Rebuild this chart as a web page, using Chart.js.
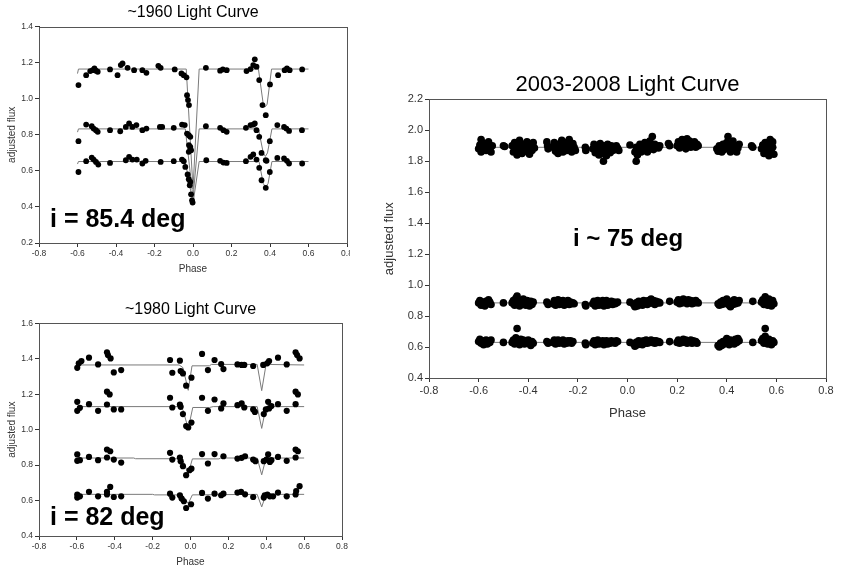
<!DOCTYPE html>
<html>
<head>
<meta charset="utf-8">
<script src="https://cdn.jsdelivr.net/npm/chart.js@4.4.1/dist/chart.umd.min.js"></script>
<style>
  html, body { margin: 0; padding: 0; background: #fff; }
  body { width: 842px; height: 571px; position: relative; overflow: hidden; }
  .panel { position: absolute; overflow: hidden; }
  canvas { display: block; }
</style>
</head>
<body>
<div class="panel" style="left:0;top:0;width:350px;height:285px"><canvas id="c1960" width="362" height="285"></canvas></div>
<div class="panel" style="left:0;top:296px;width:352px;height:275px"><canvas id="c1980" width="352" height="275"></canvas></div>
<div class="panel" style="left:370px;top:60px;width:472px;height:365px"><canvas id="c2003" width="472" height="365"></canvas></div>
<script>
// =======================
// DATA  [phase, adjusted flux]
// =======================
const xTicks = [-0.8, -0.6, -0.4, -0.2, 0.0, 0.2, 0.4, 0.6, 0.8];

// ~1960 observations (three bands)
const obs60Top = [[-0.595,1.076],[-0.555,1.131],[-0.534,1.154],[-0.521,1.159],[-0.512,1.168],[-0.504,1.156],[-0.495,1.15],
  [-0.431,1.163],[-0.392,1.131],[-0.375,1.187],[-0.366,1.196],[-0.34,1.172],[-0.306,1.159],[-0.263,1.159],[-0.242,1.144],
  [-0.18,1.183],[-0.168,1.172],[-0.095,1.163],[-0.06,1.141],[-0.048,1.131],[-0.034,1.119],[-0.031,1.02],[-0.026,0.993],
  [-0.021,0.965],[0.067,1.172],[0.141,1.156],[0.155,1.163],[0.175,1.159],[0.278,1.154],[0.299,1.165],[0.313,1.187],
  [0.321,1.219],[0.33,1.178],[0.344,1.104],[0.361,0.965],[0.378,0.909],[0.4,1.08],[0.442,1.131],[0.476,1.159],
  [0.488,1.168],[0.502,1.159],[0.567,1.163]];
const obs60Mid = [[-0.595,0.765],[-0.555,0.857],[-0.526,0.848],[-0.516,0.835],[-0.504,0.826],[-0.495,0.817],[-0.431,0.826],
  [-0.378,0.82],[-0.349,0.844],[-0.332,0.863],[-0.315,0.844],[-0.294,0.854],[-0.263,0.826],[-0.242,0.835],[-0.172,0.844],
  [-0.16,0.844],[-0.1,0.839],[-0.057,0.857],[-0.043,0.854],[-0.031,0.807],[-0.022,0.798],[-0.014,0.789],[-0.021,0.743],
  [-0.014,0.733],[-0.01,0.715],[-0.022,0.706],[0.067,0.848],[0.141,0.839],[0.158,0.826],[0.175,0.817],[0.275,0.839],
  [0.299,0.854],[0.313,0.857],[0.321,0.863],[0.33,0.826],[0.344,0.789],[0.356,0.7],[0.378,0.659],[0.399,0.765],
  [0.438,0.854],[0.473,0.844],[0.485,0.835],[0.499,0.822],[0.566,0.826]];
const obs60Low = [[-0.595,0.594],[-0.555,0.654],[-0.526,0.674],[-0.516,0.663],[-0.504,0.65],[-0.492,0.635],[-0.431,0.644],
  [-0.349,0.659],[-0.332,0.678],[-0.315,0.663],[-0.292,0.663],[-0.263,0.641],[-0.246,0.656],[-0.168,0.65],[-0.1,0.654],
  [-0.057,0.663],[-0.048,0.654],[-0.04,0.622],[-0.028,0.58],[-0.022,0.554],[-0.014,0.539],[-0.017,0.52],[-0.01,0.47],
  [-0.005,0.437],[-0.002,0.424],[0.069,0.659],[0.141,0.656],[0.158,0.646],[0.175,0.644],[0.275,0.654],[0.299,0.678],
  [0.313,0.691],[0.33,0.663],[0.344,0.617],[0.356,0.548],[0.378,0.506],[0.382,0.656],[0.399,0.594],[0.438,0.672],
  [0.473,0.669],[0.488,0.656],[0.499,0.641],[0.567,0.641]];

// ~1960 model curves
const fit60Top = [[-0.6,1.14],[-0.595,1.165],[-0.035,1.165],[0.0,0.5],[0.032,1.165],[0.34,1.165],[0.365,0.97],[0.375,0.955],[0.385,0.97],[0.408,1.165],[0.6,1.165]];
const fit60Mid = [[-0.6,0.815],[-0.595,0.833],[-0.04,0.833],[0.0,0.45],[0.032,0.833],[0.34,0.833],[0.365,0.7],[0.376,0.68],[0.387,0.7],[0.41,0.833],[0.6,0.833]];
const fit60Low = [[-0.6,0.638],[-0.595,0.652],[-0.04,0.652],[0.0,0.42],[0.032,0.652],[0.343,0.652],[0.365,0.53],[0.377,0.51],[0.39,0.53],[0.41,0.652],[0.6,0.652]];

// ~1980 observations (four bands)
const obs80A = [[-0.598,1.349],[-0.59,1.374],[-0.576,1.387],[-0.536,1.406],[-0.488,1.368],[-0.441,1.436],[-0.436,1.421],
  [-0.422,1.402],[-0.405,1.323],[-0.366,1.336],[-0.108,1.393],[-0.096,1.321],[-0.056,1.389],[-0.052,1.331],[-0.04,1.317],
  [-0.023,1.248],[0.005,1.293],[0.061,1.427],[0.092,1.336],[0.127,1.393],[0.162,1.37],[0.174,1.342],[0.248,1.368],
  [0.27,1.365],[0.284,1.365],[0.331,1.359],[0.384,1.365],[0.405,1.374],[0.415,1.387],[0.462,1.406],[0.508,1.368],
  [0.555,1.436],[0.563,1.421],[0.576,1.402]];
const obs80B = [[-0.598,1.157],[-0.598,1.106],[-0.584,1.123],[-0.536,1.144],[-0.488,1.106],[-0.441,1.214],[-0.427,1.199],
  [-0.441,1.142],[-0.405,1.114],[-0.366,1.114],[-0.108,1.18],[-0.096,1.125],[-0.056,1.142],[-0.052,1.129],[-0.04,1.088],
  [-0.023,1.02],[-0.012,1.012],[0.005,1.04],[0.061,1.18],[0.092,1.106],[0.127,1.17],[0.162,1.12],[0.174,1.148],
  [0.248,1.138],[0.27,1.148],[0.284,1.125],[0.331,1.114],[0.34,1.1],[0.387,1.088],[0.398,1.114],[0.41,1.157],
  [0.415,1.12],[0.427,1.133],[0.462,1.144],[0.508,1.106],[0.555,1.214],[0.567,1.199],[0.555,1.144]];
const obs80C = [[-0.598,0.86],[-0.598,0.824],[-0.584,0.828],[-0.536,0.846],[-0.488,0.828],[-0.441,0.888],[-0.424,0.878],
  [-0.441,0.843],[-0.405,0.831],[-0.366,0.814],[-0.108,0.869],[-0.096,0.831],[-0.056,0.843],[-0.052,0.822],[-0.04,0.794],
  [-0.023,0.743],[-0.005,0.771],[0.005,0.78],[0.061,0.862],[0.092,0.809],[0.127,0.862],[0.174,0.85],[0.248,0.837],
  [0.27,0.841],[0.288,0.85],[0.331,0.831],[0.343,0.822],[0.387,0.822],[0.401,0.831],[0.41,0.86],[0.419,0.818],
  [0.427,0.828],[0.462,0.846],[0.508,0.824],[0.555,0.888],[0.567,0.878],[0.555,0.843]];
const obs80D = [[-0.598,0.634],[-0.598,0.617],[-0.584,0.624],[-0.536,0.649],[-0.488,0.624],[-0.441,0.634],[-0.441,0.649],
  [-0.424,0.677],[-0.405,0.62],[-0.366,0.624],[-0.108,0.639],[-0.096,0.617],[-0.056,0.63],[-0.047,0.611],[-0.035,0.596],
  [-0.023,0.558],[0.003,0.579],[0.061,0.643],[0.092,0.611],[0.127,0.639],[0.162,0.63],[0.174,0.639],[0.248,0.645],
  [0.267,0.649],[0.288,0.635],[0.331,0.62],[0.387,0.617],[0.392,0.63],[0.406,0.634],[0.419,0.624],[0.436,0.624],
  [0.462,0.645],[0.508,0.624],[0.555,0.634],[0.558,0.654],[0.576,0.681]];

// ~1980 model curves
const fit80A = [[-0.6,1.365],[-0.06,1.365],[-0.04,1.35],[-0.012,1.222],[0.008,1.36],[0.1,1.36],[0.11,1.368],[0.352,1.368],[0.376,1.22],[0.399,1.368],[0.6,1.365]];
const fit80B = [[-0.6,1.13],[-0.06,1.13],[-0.04,1.112],[-0.012,1.005],[0.012,1.125],[0.1,1.125],[0.12,1.13],[0.352,1.13],[0.376,1.007],[0.399,1.13],[0.6,1.13]];
const fit80C = [[-0.6,0.84],[-0.3,0.84],[-0.29,0.836],[-0.06,0.836],[-0.04,0.825],[-0.012,0.752],[0.01,0.835],[0.15,0.835],[0.16,0.84],[0.352,0.84],[0.376,0.745],[0.399,0.84],[0.6,0.84]];
const fit80D = [[-0.6,0.635],[-0.2,0.635],[-0.19,0.632],[-0.06,0.632],[-0.04,0.625],[-0.012,0.583],[0.01,0.632],[0.352,0.635],[0.376,0.564],[0.399,0.635],[0.6,0.635]];

// 2003-2008 observations (three bands)
const obs03Top = [[-0.6,1.88],[-0.595,1.905],[-0.59,1.94],[-0.59,1.86],[-0.58,1.89],[-0.575,1.915],[-0.57,1.87],[-0.565,1.9],
  [-0.56,1.925],[-0.555,1.885],[-0.55,1.86],[-0.545,1.9],[-0.5,1.9],[-0.495,1.895],
  [-0.465,1.9],[-0.46,1.86],[-0.455,1.92],[-0.45,1.88],[-0.445,1.84],[-0.44,1.9],[-0.435,1.935],[-0.43,1.87],[-0.425,1.85],
  [-0.42,1.91],[-0.415,1.89],[-0.41,1.865],[-0.405,1.925],[-0.4,1.88],[-0.395,1.845],[-0.39,1.9],[-0.385,1.87],[-0.38,1.92],
  [-0.375,1.885],[-0.325,1.925],[-0.322,1.9],[-0.32,1.88],
  [-0.3,1.89],[-0.295,1.92],[-0.29,1.865],[-0.285,1.9],[-0.28,1.85],[-0.275,1.91],[-0.27,1.88],[-0.265,1.935],[-0.26,1.86],
  [-0.255,1.895],[-0.25,1.92],[-0.245,1.87],[-0.24,1.9],[-0.235,1.94],[-0.23,1.885],[-0.225,1.86],[-0.22,1.915],[-0.215,1.89],
  [-0.21,1.87],[-0.17,1.89],[-0.168,1.87],
  [-0.14,1.88],[-0.135,1.91],[-0.13,1.855],[-0.125,1.9],[-0.12,1.87],[-0.115,1.84],[-0.11,1.915],[-0.105,1.885],[-0.1,1.85],
  [-0.097,1.8],[-0.095,1.9],[-0.09,1.87],[-0.085,1.835],[-0.08,1.91],[-0.075,1.88],[-0.07,1.855],[-0.065,1.9],[-0.06,1.87],
  [-0.055,1.89],[-0.05,1.875],[-0.045,1.9],[-0.04,1.885],[-0.035,1.87],[0.01,1.905],[0.035,1.8],
  [0.03,1.86],[0.035,1.89],[0.04,1.84],[0.045,1.875],[0.05,1.91],[0.055,1.86],[0.06,1.895],[0.065,1.875],[0.07,1.92],
  [0.075,1.89],[0.08,1.86],[0.085,1.9],[0.09,1.93],[0.095,1.88],[0.1,1.96],[0.1,1.905],[0.105,1.875],[0.11,1.91],[0.115,1.89],
  [0.12,1.9],[0.125,1.885],[0.13,1.9],[0.165,1.915],[0.17,1.9],
  [0.2,1.9],[0.205,1.925],[0.21,1.885],[0.215,1.91],[0.22,1.94],[0.225,1.895],[0.23,1.92],[0.235,1.88],[0.24,1.945],
  [0.245,1.905],[0.25,1.93],[0.255,1.89],[0.26,1.915],[0.265,1.9],[0.27,1.925],[0.275,1.89],[0.28,1.91],[0.285,1.9],
  [0.36,1.88],[0.365,1.865],[0.37,1.9],[0.375,1.885],[0.38,1.86],[0.385,1.91],[0.39,1.875],[0.395,1.895],[0.4,1.92],
  [0.405,1.96],[0.41,1.89],[0.415,1.86],[0.42,1.905],[0.425,1.93],[0.43,1.875],[0.435,1.9],[0.44,1.86],[0.445,1.885],
  [0.45,1.91],[0.5,1.9],[0.505,1.89],
  [0.54,1.88],[0.545,1.905],[0.55,1.85],[0.555,1.92],[0.56,1.87],[0.565,1.895],[0.57,1.835],[0.575,1.91],[0.575,1.94],
  [0.58,1.86],[0.585,1.89],[0.585,1.925],[0.59,1.845]];
const obs03Mid = [[-0.6,0.885],[-0.595,0.9],[-0.59,0.87],[-0.585,0.89],[-0.58,0.875],[-0.575,0.865],[-0.57,0.895],[-0.565,0.88],
  [-0.56,0.905],[-0.555,0.89],[-0.55,0.875],[-0.5,0.885],
  [-0.465,0.885],[-0.46,0.9],[-0.455,0.87],[-0.45,0.915],[-0.445,0.93],[-0.44,0.885],[-0.435,0.865],[-0.43,0.9],[-0.425,0.875],
  [-0.42,0.91],[-0.415,0.89],[-0.41,0.87],[-0.405,0.9],[-0.4,0.88],[-0.395,0.865],[-0.39,0.895],[-0.385,0.875],[-0.38,0.89],
  [-0.325,0.89],[-0.32,0.875],
  [-0.3,0.88],[-0.295,0.9],[-0.29,0.87],[-0.285,0.89],[-0.28,0.905],[-0.275,0.875],[-0.27,0.895],[-0.265,0.88],[-0.26,0.9],
  [-0.255,0.87],[-0.25,0.89],[-0.245,0.88],[-0.24,0.9],[-0.235,0.875],[-0.23,0.89],[-0.225,0.88],[-0.22,0.885],[-0.215,0.88],
  [-0.17,0.875],[-0.168,0.865],
  [-0.14,0.88],[-0.135,0.895],[-0.13,0.865],[-0.125,0.885],[-0.12,0.9],[-0.115,0.87],[-0.11,0.89],[-0.105,0.875],[-0.1,0.9],
  [-0.095,0.865],[-0.09,0.885],[-0.085,0.9],[-0.08,0.87],[-0.075,0.89],[-0.07,0.88],[-0.065,0.895],[-0.06,0.875],[-0.055,0.89],
  [-0.05,0.88],[-0.045,0.885],[-0.04,0.89],[0.01,0.89],
  [0.025,0.875],[0.03,0.86],[0.035,0.885],[0.04,0.865],[0.045,0.895],[0.05,0.875],[0.055,0.89],[0.06,0.87],[0.065,0.9],
  [0.07,0.88],[0.075,0.895],[0.08,0.875],[0.085,0.9],[0.09,0.885],[0.095,0.91],[0.1,0.885],[0.105,0.9],[0.11,0.875],
  [0.115,0.895],[0.12,0.885],[0.125,0.89],[0.13,0.885],[0.17,0.895],
  [0.2,0.89],[0.205,0.905],[0.21,0.88],[0.215,0.9],[0.22,0.885],[0.225,0.91],[0.23,0.89],[0.235,0.9],[0.24,0.88],[0.245,0.905],
  [0.25,0.89],[0.255,0.9],[0.26,0.88],[0.265,0.895],[0.27,0.885],[0.275,0.9],[0.28,0.89],[0.285,0.885],
  [0.365,0.88],[0.37,0.87],[0.375,0.89],[0.38,0.875],[0.385,0.9],[0.39,0.88],[0.395,0.895],[0.4,0.91],[0.405,0.885],
  [0.41,0.87],[0.415,0.86],[0.42,0.895],[0.425,0.875],[0.43,0.905],[0.435,0.88],[0.44,0.895],[0.445,0.885],[0.45,0.9],
  [0.505,0.895],
  [0.54,0.89],[0.545,0.905],[0.55,0.875],[0.555,0.925],[0.56,0.895],[0.565,0.87],[0.57,0.91],[0.575,0.885],[0.58,0.865],
  [0.585,0.9],[0.59,0.88]];
const obs03Low = [[-0.6,0.635],[-0.595,0.65],[-0.59,0.625],[-0.585,0.64],[-0.58,0.615],[-0.575,0.63],[-0.57,0.645],[-0.565,0.62],
  [-0.56,0.64],[-0.555,0.63],[-0.55,0.645],[-0.5,0.63],
  [-0.465,0.63],[-0.46,0.645],[-0.455,0.62],[-0.45,0.66],[-0.445,0.72],[-0.44,0.64],[-0.435,0.615],[-0.43,0.65],[-0.425,0.63],
  [-0.42,0.645],[-0.415,0.62],[-0.41,0.64],[-0.405,0.63],[-0.4,0.645],[-0.395,0.625],[-0.39,0.61],[-0.385,0.635],[-0.38,0.625],
  [-0.325,0.635],[-0.32,0.625],
  [-0.3,0.63],[-0.295,0.645],[-0.29,0.62],[-0.285,0.635],[-0.28,0.645],[-0.275,0.625],[-0.27,0.64],[-0.265,0.63],[-0.26,0.645],
  [-0.255,0.62],[-0.25,0.635],[-0.245,0.625],[-0.24,0.64],[-0.235,0.63],[-0.23,0.64],[-0.225,0.625],[-0.22,0.635],
  [-0.17,0.625],[-0.168,0.615],
  [-0.14,0.625],[-0.135,0.64],[-0.13,0.615],[-0.125,0.63],[-0.12,0.645],[-0.115,0.62],[-0.11,0.635],[-0.105,0.625],[-0.1,0.64],
  [-0.095,0.615],[-0.09,0.63],[-0.085,0.64],[-0.08,0.62],[-0.075,0.635],[-0.07,0.625],[-0.065,0.64],[-0.06,0.63],[-0.055,0.635],
  [-0.05,0.625],[-0.045,0.64],[-0.04,0.635],[0.01,0.63],
  [0.025,0.62],[0.03,0.605],[0.035,0.63],[0.04,0.615],[0.045,0.64],[0.05,0.62],[0.055,0.635],[0.06,0.615],[0.065,0.64],
  [0.07,0.625],[0.075,0.645],[0.08,0.625],[0.085,0.64],[0.09,0.63],[0.095,0.645],[0.1,0.63],[0.105,0.64],[0.11,0.625],
  [0.115,0.64],[0.12,0.63],[0.125,0.635],[0.13,0.63],[0.17,0.635],
  [0.2,0.63],[0.205,0.645],[0.21,0.625],[0.215,0.64],[0.22,0.63],[0.225,0.65],[0.23,0.635],[0.235,0.645],[0.24,0.625],
  [0.245,0.64],[0.25,0.63],[0.255,0.645],[0.26,0.625],[0.265,0.64],[0.27,0.63],[0.275,0.635],[0.28,0.625],
  [0.365,0.61],[0.37,0.6],[0.375,0.625],[0.38,0.61],[0.385,0.635],[0.39,0.62],[0.395,0.64],[0.4,0.655],[0.405,0.63],
  [0.41,0.615],[0.415,0.645],[0.42,0.625],[0.425,0.64],[0.43,0.62],[0.435,0.65],[0.44,0.63],[0.445,0.655],[0.45,0.64],
  [0.505,0.63],
  [0.54,0.64],[0.545,0.655],[0.55,0.625],[0.555,0.72],[0.555,0.67],[0.56,0.645],[0.565,0.62],[0.57,0.65],[0.575,0.635],
  [0.58,0.615],[0.585,0.64],[0.59,0.63]];

// 2003-2008 model curves (flat)
const fit03Top = [[-0.6,1.89],[0.6,1.89]];
const fit03Mid = [[-0.6,0.885],[0.6,0.885]];
const fit03Low = [[-0.6,0.63],[0.6,0.63]];

// =======================
// HELPERS
// =======================
const FONT = "'Liberation Sans', Arial, sans-serif";
const toXY = arr => arr.map(([x, y]) => ({ x, y }));
const fmt = v => (Math.abs(v) < 1e-9 ? 0 : v).toFixed(1);

// frame around the plot area + big inclination label
const panelText = {
  id: "panelText",
  afterDraw(chart, args, opts) {
    const { ctx, chartArea: a } = chart;
    ctx.save();
    ctx.strokeStyle = "#555";
    ctx.lineWidth = 1;
    const l = Math.round(a.left) + 0.5, t = Math.round(a.top) + 0.5;
    ctx.strokeRect(l, t, Math.round(a.right) - Math.round(a.left), Math.round(a.bottom) - Math.round(a.top));
    ctx.fillStyle = "#000";
    ctx.font = opts.font;
    ctx.textBaseline = "alphabetic";
    ctx.fillText(opts.text, opts.x, opts.y);
    ctx.restore();
  }
};

function lightCurve(id, o) {
  const datasets = [];
  o.obs.forEach(d => datasets.push({
    data: toXY(d), showLine: false, pointRadius: o.r, pointHoverRadius: o.r,
    backgroundColor: "#000", borderColor: "#000", borderWidth: 0, order: 1
  }));
  o.fits.forEach(d => datasets.push({
    data: toXY(d), showLine: true, pointRadius: 0, borderColor: "#7a7a7a",
    borderWidth: 1, fill: false, tension: 0, order: 2
  }));

  return new Chart(document.getElementById(id), {
    type: "scatter",
    data: { datasets },
    plugins: [panelText],
    options: {
      responsive: false,
      animation: false,
      events: [],
      layout: { padding: { left: 0, right: o.padRight, top: 0, bottom: 0 } },
      plugins: {
        legend: { display: false },
        tooltip: { enabled: false },
        title: {
          display: true, text: o.title, fullSize: false, color: "#000",
          font: { family: FONT, size: o.titleSize, weight: "normal", lineHeight: 1.2 },
          padding: o.titlePad
        },
        panelText: o.label
      },
      scales: {
        x: {
          type: "linear", min: -0.8, max: 0.8,
          afterFit: s => { s.height = o.xHeight; },
          afterBuildTicks: s => { s.ticks = xTicks.map(v => ({ value: v })); },
          ticks: { callback: fmt, color: "#333", padding: 2, maxRotation: 0, autoSkip: false,
                   font: { family: FONT, size: o.tickSize } },
          grid: { drawOnChartArea: false, tickLength: 4, color: "#333" },
          border: { color: "#333" },
          title: { display: true, text: "Phase", color: "#333",
                   font: { family: FONT, size: o.axisSize, lineHeight: 1.2 },
                   padding: { top: 0, bottom: o.xTitlePad } }
        },
        y: {
          type: "linear", min: o.yMin, max: o.yMax,
          afterFit: s => { s.width = o.yWidth; },
          afterBuildTicks: s => { s.ticks = o.yTicks.map(v => ({ value: v })); },
          ticks: { callback: fmt, color: "#333", padding: 2, autoSkip: false,
                   font: { family: FONT, size: o.tickSize } },
          grid: { drawOnChartArea: false, tickLength: 4, color: "#333" },
          border: { color: "#333" },
          title: { display: true, text: "adjusted flux", color: "#333",
                   font: { family: FONT, size: o.axisSize, lineHeight: 1.2 },
                   padding: { top: o.yTitlePad, bottom: 0 } }
        }
      }
    }
  });
}

// =======================
// CHARTS
// =======================
lightCurve("c1960", {
  title: "~1960 Light Curve", titleSize: 16, titlePad: { top: 3.4, bottom: 4.1 },
  obs: [obs60Top, obs60Mid, obs60Low], fits: [fit60Top, fit60Mid, fit60Low], r: 2.9,
  yMin: 0.2, yMax: 1.4, yTicks: [0.2, 0.4, 0.6, 0.8, 1.0, 1.2, 1.4],
  tickSize: 8.5, axisSize: 10, padRight: 15, xHeight: 42, xTitlePad: 10, yWidth: 39, yTitlePad: 6,
  label: { text: "i = 85.4 deg", font: "bold 25px " + FONT, x: 50, y: 227 }
});

lightCurve("c1980", {
  title: "~1980 Light Curve", titleSize: 16, titlePad: { top: 4.4, bottom: 3.7 },
  obs: [obs80A, obs80B, obs80C, obs80D], fits: [fit80A, fit80B, fit80C, fit80D], r: 3.1,
  yMin: 0.4, yMax: 1.6, yTicks: [0.4, 0.6, 0.8, 1.0, 1.2, 1.4, 1.6],
  tickSize: 8.5, axisSize: 10, padRight: 10, xHeight: 35, xTitlePad: 3, yWidth: 39, yTitlePad: 6,
  label: { text: "i = 82 deg", font: "bold 25px " + FONT, x: 50, y: 229 }
});

lightCurve("c2003", {
  title: "2003-2008 Light Curve", titleSize: 22, titlePad: { top: 11.8, bottom: 1.1 },
  obs: [obs03Top, obs03Mid, obs03Low], fits: [fit03Top, fit03Mid, fit03Low], r: 3.8,
  yMin: 0.4, yMax: 2.2, yTicks: [0.4, 0.6, 0.8, 1.0, 1.2, 1.4, 1.6, 1.8, 2.0, 2.2],
  tickSize: 11, axisSize: 13, padRight: 16, xHeight: 47, xTitlePad: 4, yWidth: 59, yTitlePad: 12,
  label: { text: "i ~ 75 deg", font: "bold 24px " + FONT, x: 203, y: 186 }
});
</script>
</body>
</html>
